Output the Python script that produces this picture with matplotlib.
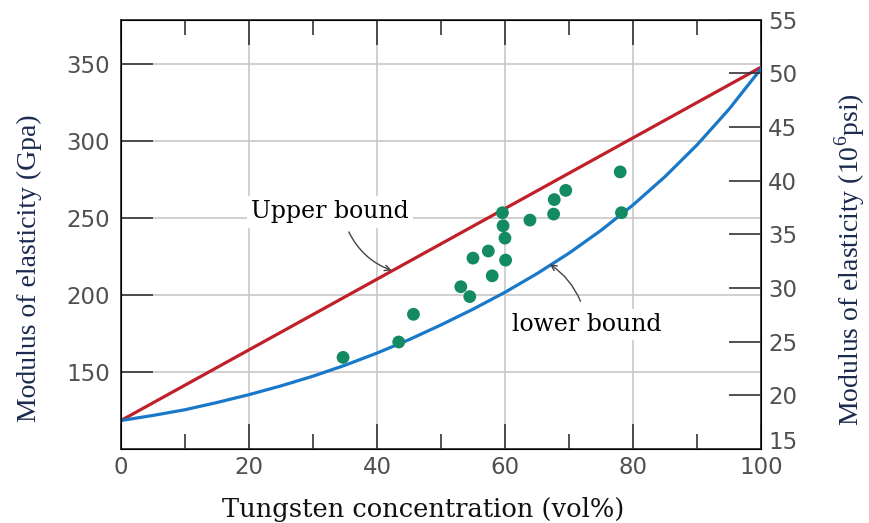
import numpy as np
import matplotlib
matplotlib.use("Agg")
import matplotlib.pyplot as plt
from matplotlib.ticker import MultipleLocator
from matplotlib.transforms import offset_copy

plt.rcParams['mathtext.fontset'] = 'custom'
plt.rcParams['mathtext.rm'] = 'Liberation Serif'

# data
conc = [0, 5, 10, 15, 20, 25, 30, 35, 40, 45, 50, 55, 60, 65, 70, 75, 80, 85, 90, 95, 100]
lower = [118.5, 121.8, 125.5, 130.2, 135.3, 141, 147.3, 154.4, 162.3, 171, 180.6, 190.8,
         201.8, 213.9, 227.2, 242, 258.5, 276.9, 297.5, 320.7, 347]
upper_x = [0, 100]
upper_y = [118.5, 348]

pts_x = [34.7, 43.4, 45.7, 53.1, 54.5, 55.0, 57.4, 58.0, 59.6, 59.7, 60.0, 60.1,
         63.9, 67.6, 67.7, 69.5, 78.0, 78.2]
pts_y = [159.5, 169.5, 187.5, 205.4, 199, 224, 228.6, 212.5, 253.5, 245, 237, 222.7,
         248.7, 252.6, 262, 268, 280, 253.5]

psi_ticks = [20, 25, 30, 35, 40, 45, 50, 55]

serif = 'Liberation Serif'
wide_serif = 'DejaVu Serif'
lab_col = '#1b2a4e'
tick_col = '#505050'

fig = plt.figure(figsize=(8.69, 5.23), dpi=100)
ax = fig.add_axes([0.1392, 0.1415, 0.7365, 0.8212])

ax.plot(upper_x, upper_y, color='#c0202a', lw=2.3, zorder=3)
ax.plot(conc, lower, color='#1a78c8', lw=2.3, zorder=3)
ax.scatter(pts_x, pts_y, s=85, color='#138a63', zorder=4, edgecolors='none')

ax.set_xlim(0, 100)
ax.set_ylim(100, 379)
ax.xaxis.set_major_locator(MultipleLocator(20))
ax.xaxis.set_minor_locator(MultipleLocator(10))
ax.set_yticks([150, 200, 250, 300, 350])
ax.grid(True, color='#c8c8c8', lw=1.2, zorder=0)
ax.tick_params(axis='x', which='major', direction='in', length=18, width=1.2,
               top=True, colors='#333333', labelcolor=tick_col, labelsize=16.5, pad=5)
ax.tick_params(axis='x', which='minor', direction='in', length=11, width=1.2,
               top=True, colors='#333333')
ax.tick_params(axis='y', direction='in', length=23, width=1.2,
               colors='#333333', labelcolor=tick_col, labelsize=16.5, pad=8)
for s in ax.spines.values():
    s.set_color('#333333')
    s.set_linewidth(1.3)

ax.set_xlabel('Tungsten concentration (vol%)', family=wide_serif, fontsize=18.5,
              color='#111111')
ax.xaxis.set_label_coords(0.472, -0.112)
ax.set_ylabel('Modulus of elasticity (Gpa)', family=serif, fontsize=20,
              color=lab_col)
ax.yaxis.set_label_coords(-0.123, 0.42)

ax2 = ax.twinx()
ax2.set_ylim(15, 55)
ax2.set_yticks(psi_ticks)
ax2.tick_params(axis='y', direction='in', length=23, width=1.2,
                colors='#333333', labelcolor=tick_col, labelsize=16.5, pad=5)
ax2.set_ylabel('Modulus of elasticity (10$^{6}$psi)', family=serif, fontsize=20,
               color=lab_col)
ax2.yaxis.set_label_coords(1.112, 0.442)
# the lowest right label sits a little higher in the original
ax2.text(1.0, 15, '15', fontsize=16.5, color=tick_col, ha='left', va='center',
         transform=offset_copy(ax2.get_yaxis_transform(), fig=fig, x=7, y=6, units='dots'))

box = dict(facecolor='white', edgecolor='none', pad=3)
ax.text(32.7, 254, 'Upper bound', family=wide_serif, fontsize=17,
        ha='center', va='center', bbox=box, zorder=5)
ax.text(72.7, 181, 'lower bound', family=wide_serif, fontsize=17,
        ha='center', va='center', bbox=box, zorder=5)
ax.annotate('', xy=(42.3, 216), xytext=(35.6, 241),
            arrowprops=dict(arrowstyle='->', color='#444444', lw=1,
                            connectionstyle='arc3,rad=0.2', shrinkA=0, shrinkB=0))
ax.annotate('', xy=(67.0, 220), xytext=(71.8, 196),
            arrowprops=dict(arrowstyle='->', color='#444444', lw=1,
                            connectionstyle='arc3,rad=0.15', shrinkA=0, shrinkB=0))

fig.savefig('out.png', dpi=100)
